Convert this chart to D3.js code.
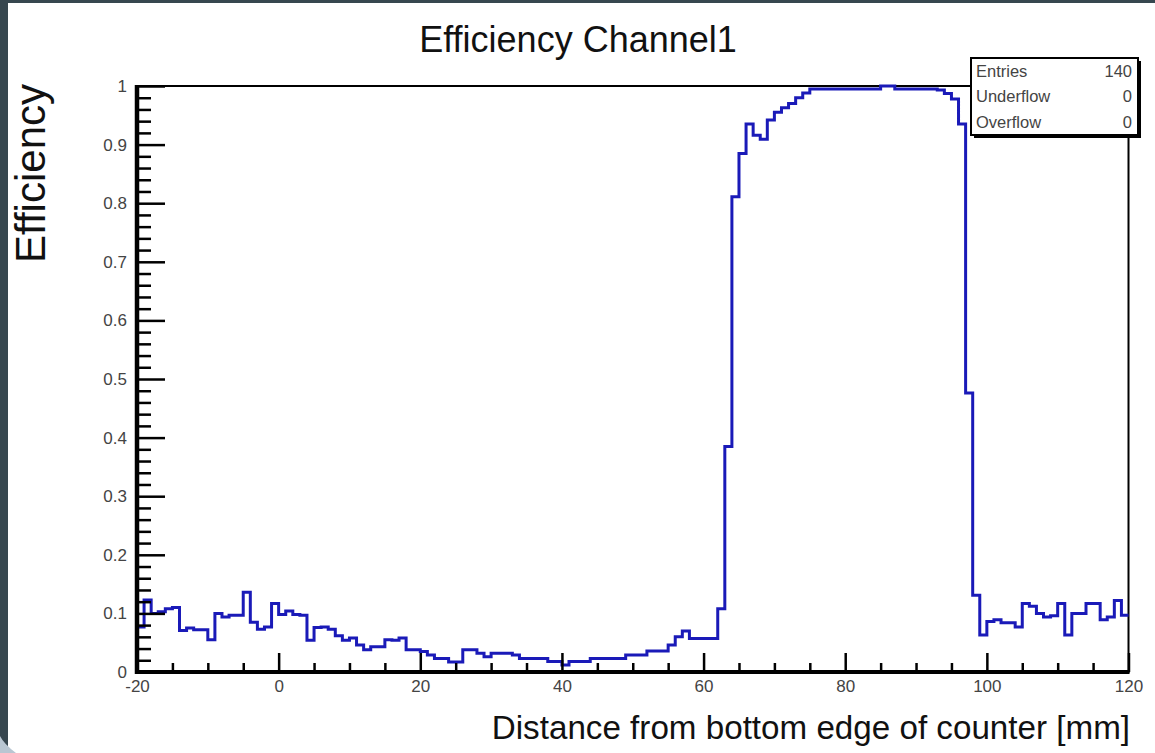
<!DOCTYPE html>
<html><head><meta charset="utf-8">
<script src="https://cdn.jsdelivr.net/npm/d3@7"></script>
<style>
  html, body { margin: 0; padding: 0; background: #ffffff; }
  svg { display: block; font-family: "Liberation Sans", Arial, Helvetica, sans-serif; }
</style>
</head><body>
<svg id="chart" width="1155" height="753"></svg>
<script>
// Histogram binning: 140 bins of 1 mm starting at -20 mm
const binLow = -20;
const binWidth = 1;

// Efficiency per bin, from -20 mm up to 119 mm (left edges)
const efficiency = [
  0.077, 0.123, 0.100, 0.103, 0.108, 0.110, 0.071, 0.075, 0.072, 0.072,   // -20 .. -11
  0.055, 0.100, 0.094, 0.097, 0.097, 0.136, 0.085, 0.073, 0.077, 0.117,   // -10 .. -1
  0.098, 0.104, 0.098, 0.097, 0.054, 0.076, 0.077, 0.073, 0.062, 0.054,   //   0 .. 9
  0.058, 0.046, 0.038, 0.043, 0.043, 0.055, 0.054, 0.058, 0.038, 0.038,   //  10 .. 19
  0.035, 0.029, 0.023, 0.023, 0.017, 0.017, 0.038, 0.038, 0.032, 0.026,   //  20 .. 29
  0.032, 0.032, 0.032, 0.029, 0.023, 0.023, 0.023, 0.023, 0.018, 0.018,   //  30 .. 39
  0.012, 0.018, 0.018, 0.018, 0.023, 0.023, 0.023, 0.023, 0.023, 0.029,   //  40 .. 49
  0.029, 0.029, 0.036, 0.036, 0.036, 0.046, 0.060, 0.070, 0.057, 0.057,   //  50 .. 59
  0.057, 0.057, 0.108, 0.385, 0.811, 0.885, 0.935, 0.916, 0.909, 0.942,   //  60 .. 69
  0.955, 0.963, 0.970, 0.980, 0.988, 0.995, 0.995, 0.995, 0.995, 0.995,   //  70 .. 79
  0.995, 0.995, 0.995, 0.995, 0.995, 1.000, 1.000, 0.995, 0.995, 0.995,   //  80 .. 89
  0.995, 0.995, 0.995, 0.993, 0.987, 0.978, 0.935, 0.476, 0.131, 0.063,   //  90 .. 99
  0.086, 0.089, 0.084, 0.084, 0.077, 0.117, 0.112, 0.100, 0.094, 0.096,   // 100 .. 109
  0.117, 0.063, 0.100, 0.100, 0.117, 0.117, 0.089, 0.094, 0.122, 0.097    // 110 .. 119
];

const xDomain = [-20, 120];
const yDomain = [0, 1];
const xMajorTicks = [-20, 0, 20, 40, 60, 80, 100, 120];
const xTickLabels = ["-20", "0", "20", "40", "60", "80", "100", "120"];
const xMinorStep = 5;
const yMajorTicks = [0, 0.1, 0.2, 0.3, 0.4, 0.5, 0.6, 0.7, 0.8, 0.9, 1];
const yTickLabels = ["0", "0.1", "0.2", "0.3", "0.4", "0.5", "0.6", "0.7", "0.8", "0.9", "1"];
const yMinorStep = 0.02;

const titleText = "Efficiency Channel1";
const xTitle = "Distance from bottom edge of counter [mm]";
const yTitle = "Efficiency";
const statNames = ["Entries", "Underflow", "Overflow"];
const statValues = ["140", "0", "0"];

// ---- layout ----
const svg = d3.select("#chart");
const W = 1155, H = 753;
const frame = { left: 137, right: 1128.5, top: 86, bottom: 672 };

const x = d3.scaleLinear().domain(xDomain).range([frame.left, frame.right]);
const y = d3.scaleLinear().domain(yDomain).range([frame.bottom, frame.top]);

// page background with dark window edges
svg.append("rect").attr("width", W).attr("height", H).attr("fill", "#ffffff");
svg.append("rect").attr("x", 0).attr("y", 0).attr("width", W).attr("height", 3).attr("fill", "#37474f");
svg.append("rect").attr("x", 0).attr("y", 0).attr("width", 8).attr("height", H).attr("fill", "#37474f");
svg.append("path")
  .attr("d", "M0,736 Q4,744 16,753 L0,753 Z")
  .attr("fill", "#b9c6d2");

// plot frame
svg.append("rect")
  .attr("x", frame.left).attr("y", frame.top)
  .attr("width", frame.right - frame.left).attr("height", frame.bottom - frame.top)
  .attr("fill", "#ffffff").attr("stroke", "#000").attr("stroke-width", 2);

// histogram outline as a step path
const stepPts = [];
efficiency.forEach((v, i) => {
  const lo = binLow + i * binWidth;
  stepPts.push([lo, v], [lo + binWidth, v]);
});
const line = d3.line().x(d => x(d[0])).y(d => y(d[1]));
svg.append("path")
  .datum(stepPts)
  .attr("d", line)
  .attr("fill", "none")
  .attr("stroke", "#1a1ab8")
  .attr("stroke-width", 3)
  .attr("stroke-linejoin", "miter");

// minor ticks (inside the frame)
const xMinor = d3.range(xDomain[0], xDomain[1] + 0.001, xMinorStep).filter(v => !xMajorTicks.includes(v));
const yMinor = d3.range(0, 1.0001, yMinorStep).map(v => +v.toFixed(2))
  .filter(v => !yMajorTicks.some(m => Math.abs(m - v) < 1e-6));

const xAxisMinor = svg.append("g")
  .attr("transform", `translate(0,${frame.bottom})`)
  .call(d3.axisBottom(x).tickValues(xMinor).tickSize(-9).tickFormat(""));
const xAxisMajor = svg.append("g")
  .attr("transform", `translate(0,${frame.bottom})`)
  .call(d3.axisBottom(x).tickValues(xMajorTicks).tickSize(-19).tickPadding(8)
    .tickFormat((d, i) => xTickLabels[i]));

const yAxisMinor = svg.append("g")
  .attr("transform", `translate(${frame.left},0)`)
  .call(d3.axisLeft(y).tickValues(yMinor).tickSize(-14).tickFormat(""));
const yAxisMajor = svg.append("g")
  .attr("transform", `translate(${frame.left},0)`)
  .call(d3.axisLeft(y).tickValues(yMajorTicks).tickSize(-28).tickPadding(10)
    .tickFormat((d, i) => yTickLabels[i]));

[xAxisMinor, xAxisMajor, yAxisMinor, yAxisMajor].forEach(g => {
  g.select(".domain").remove();
  g.selectAll(".tick line").attr("stroke", "#000").attr("stroke-width", 2.5);
  g.selectAll(".tick text")
    .attr("font-family", "'Liberation Sans', Arial, sans-serif")
    .attr("font-size", 17).attr("fill", "#444");
});

// thick axis lines on the left and bottom
svg.append("line").attr("x1", frame.left).attr("x2", frame.left)
  .attr("y1", frame.top - 1).attr("y2", frame.bottom + 2)
  .attr("stroke", "#000").attr("stroke-width", 4.5);
svg.append("line").attr("x1", frame.left - 2).attr("x2", frame.right + 1)
  .attr("y1", frame.bottom).attr("y2", frame.bottom)
  .attr("stroke", "#000").attr("stroke-width", 4);

// titles
svg.append("text")
  .attr("x", 578).attr("y", 52)
  .attr("text-anchor", "middle")
  .attr("font-size", 36).attr("fill", "#111")
  .text(titleText);

svg.append("text")
  .attr("x", 1130).attr("y", 739)
  .attr("text-anchor", "end")
  .attr("font-size", 33.2).attr("fill", "#111")
  .text(xTitle);

svg.append("text")
  .attr("transform", `translate(45,84) rotate(-90)`)
  .attr("text-anchor", "end")
  .attr("font-size", 42).attr("fill", "#111")
  .text(yTitle);

// statistics box with shadow
const box = { x: 971, y: 58, w: 167, h: 77 };
svg.append("rect")
  .attr("x", box.x + 3).attr("y", box.y + 3).attr("width", box.w).attr("height", box.h)
  .attr("fill", "#000");
svg.append("rect")
  .attr("x", box.x).attr("y", box.y).attr("width", box.w).attr("height", box.h)
  .attr("fill", "#fff").attr("stroke", "#000").attr("stroke-width", 2);

const rowY = d3.scaleBand().domain(statNames).range([box.y, box.y + box.h]);
const statRows = svg.append("g").selectAll("g")
  .data(statNames.map((n, i) => ({ name: n, value: statValues[i] })))
  .join("g")
  .attr("transform", d => `translate(0,${rowY(d.name) + rowY.bandwidth() / 2})`);
statRows.append("text")
  .attr("x", box.x + 5).attr("dy", "0.35em")
  .attr("font-size", 16.5).attr("fill", "#444")
  .text(d => d.name);
statRows.append("text")
  .attr("x", box.x + box.w - 6).attr("dy", "0.35em")
  .attr("text-anchor", "end")
  .attr("font-size", 16.5).attr("fill", "#444")
  .text(d => d.value);
</script>
</body></html>
